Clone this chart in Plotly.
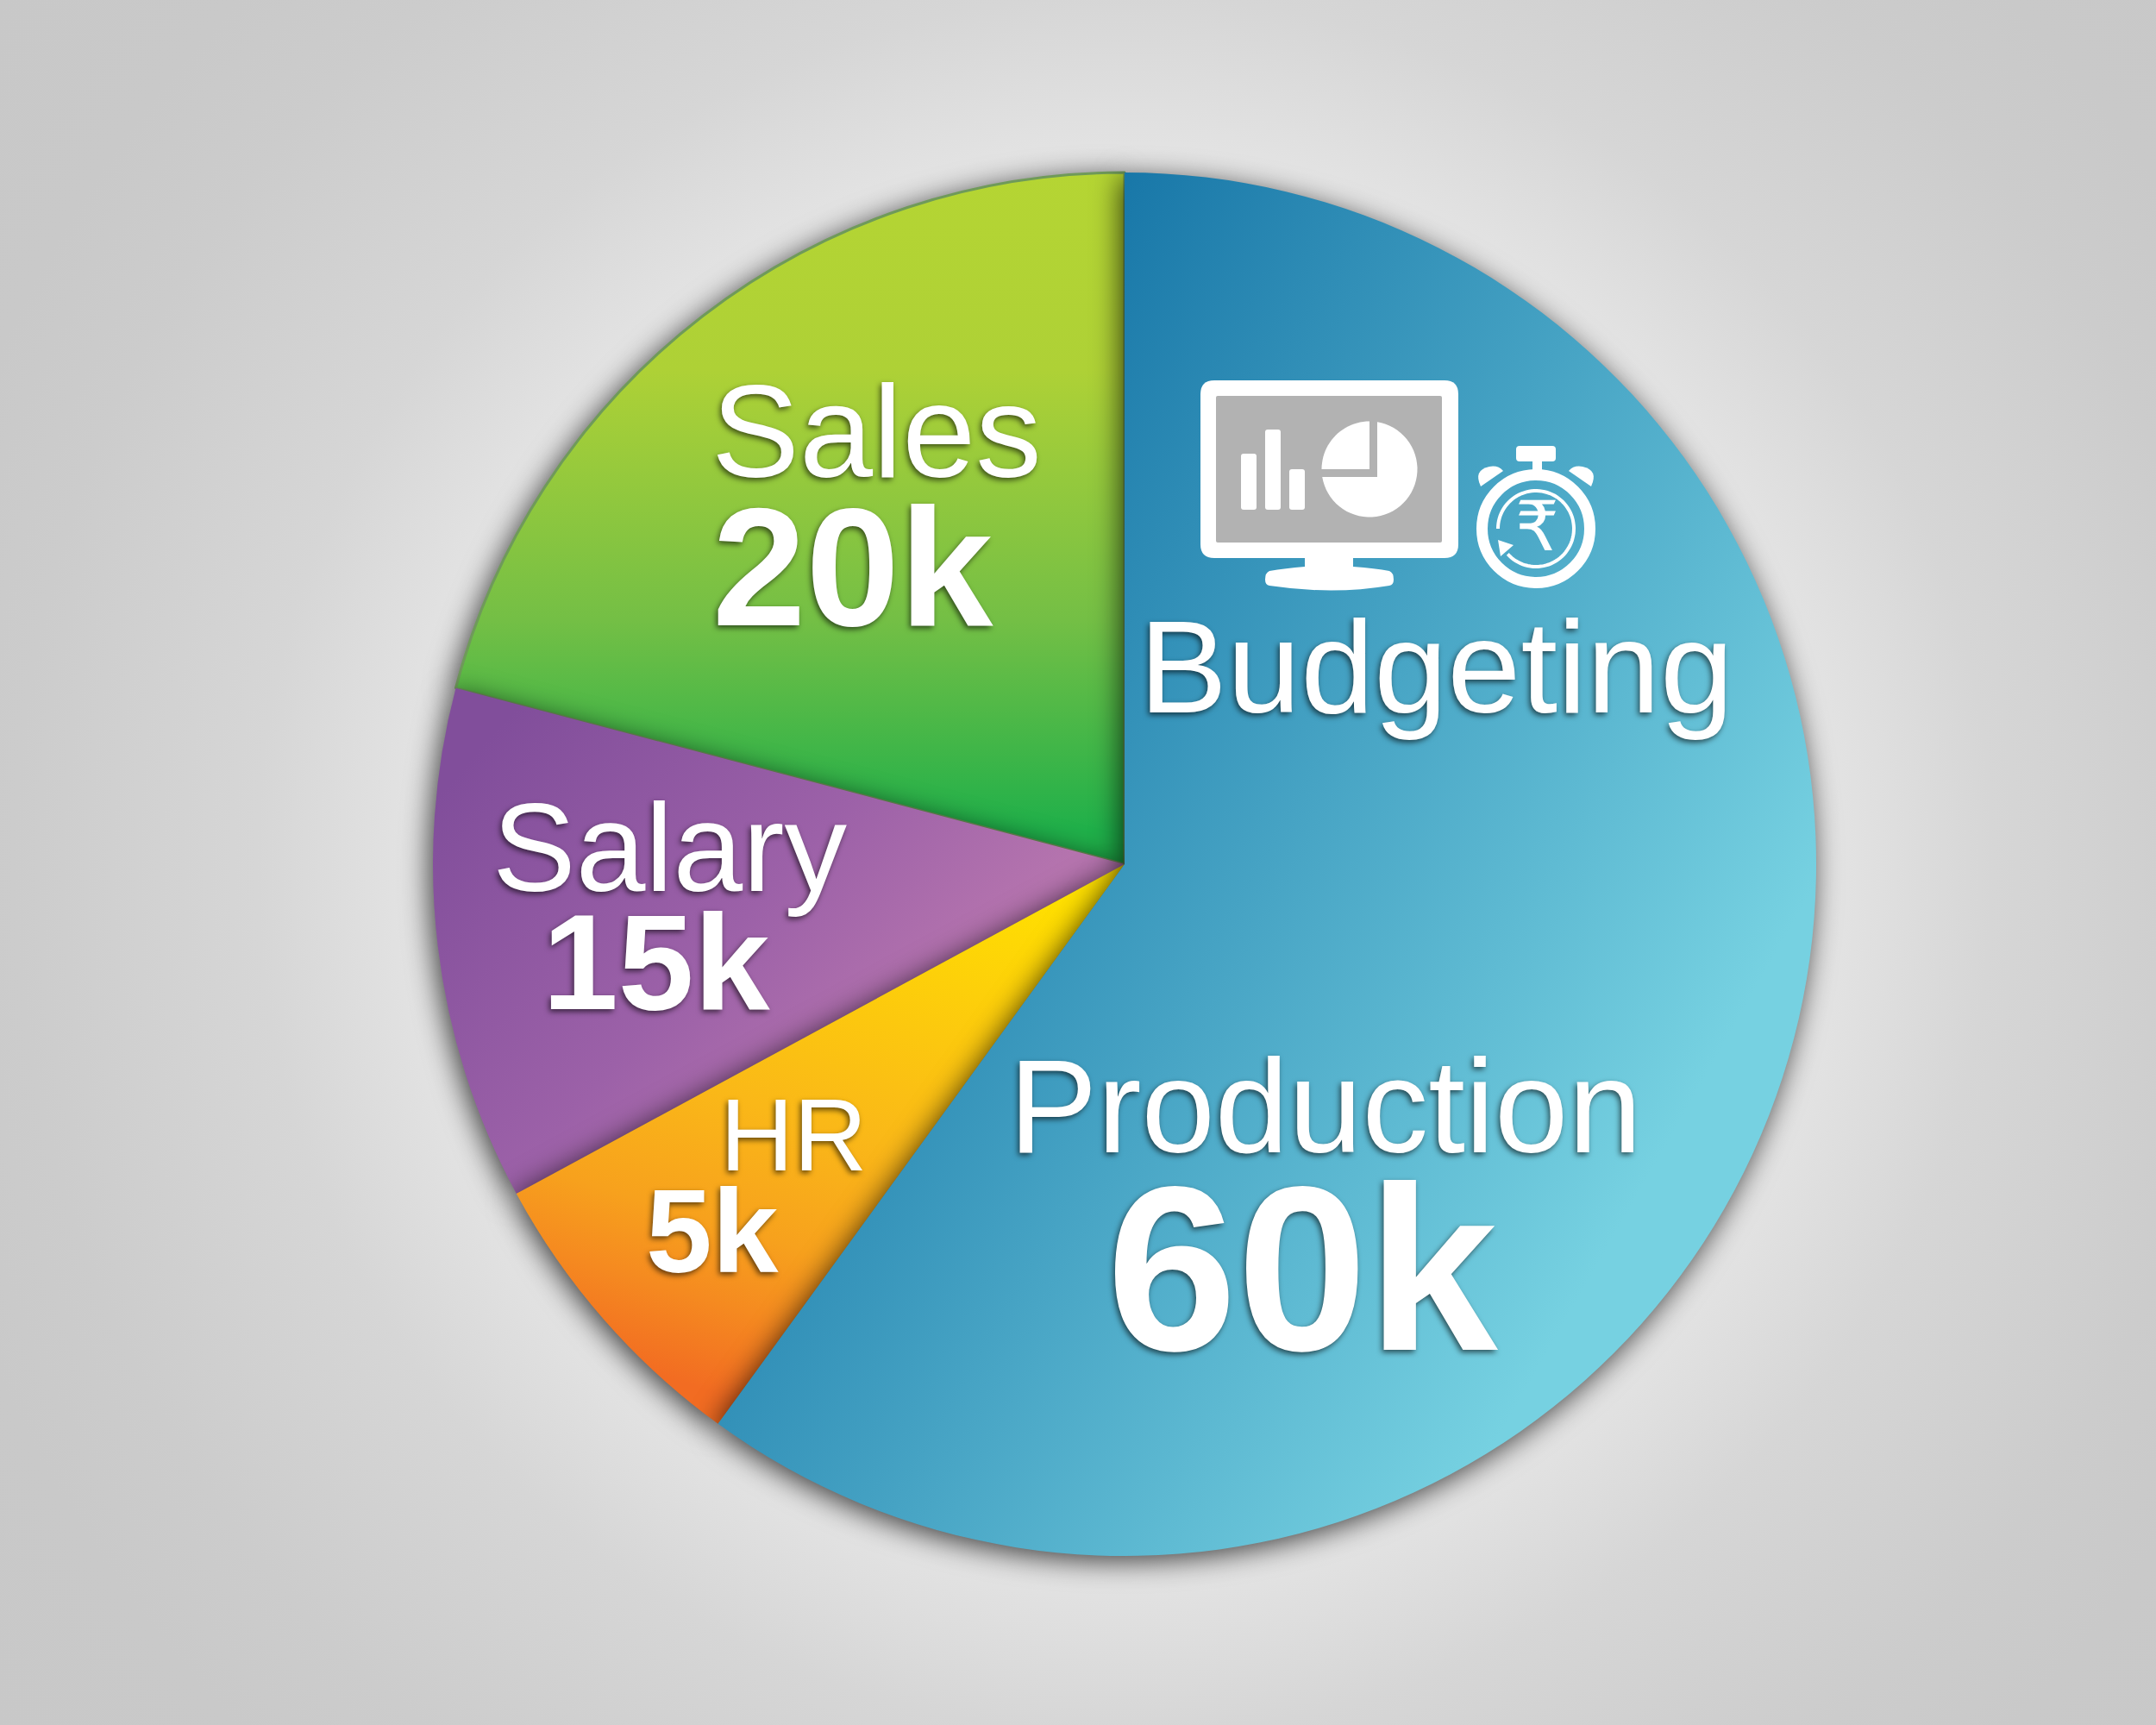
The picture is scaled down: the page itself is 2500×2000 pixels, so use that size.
import base64
import math
import plotly.graph_objects as go

# Data
slice_labels = ["Production", "HR", "Salary", "Sales"]
slice_shares = [60.0, 7.1, 12.0, 20.9]          # drawn share of the circle
base_colors = ["#3f97bf", "#f8a81c", "#9a60a8", "#7cc142"]

text_names = ["Budgeting", "Production", "Sales", "Salary", "HR"]
text_values = ["", "60k", "20k", "15k", "5k"]

W, H = 2500, 2000
CX, CY, R = 1304, 1002, 802

bg_svg = f'''<svg xmlns="http://www.w3.org/2000/svg" width="{W}" height="{H}">
<defs><radialGradient id="b" gradientUnits="userSpaceOnUse" cx="{CX}" cy="{CY}" r="1650">
<stop offset="0.49" stop-color="#e4e4e4"/><stop offset="0.61" stop-color="#d6d6d6"/>
<stop offset="0.78" stop-color="#cccccc"/><stop offset="0.87" stop-color="#c9c9c9"/><stop offset="1" stop-color="#c8c8c8"/>
</radialGradient></defs><rect width="{W}" height="{H}" fill="url(#b)"/></svg>'''
bg_uri = "data:image/svg+xml;base64," + base64.b64encode(bg_svg.encode()).decode()

fig = go.Figure(go.Pie(
    labels=slice_labels, values=slice_shares, sort=False, direction="clockwise", rotation=0,
    textinfo="none", showlegend=False, hoverinfo="label",
    marker=dict(colors=base_colors, line=dict(width=[0, 0, 0, 3], color="#6f9a5a")),
    domain=dict(x=[(CX - R) / W, (CX + R) / W], y=[1 - (CY + R) / H, 1 - (CY - R) / H]),
))

# text: (left x, baseline y, size) for the name, then for the value
name_pos = {"Budgeting": (1321, 826, 153), "Production": (1170, 1336, 153.5), "Sales": (825, 553, 153),
            "Salary": (571, 1033, 145), "HR": (835, 1357, 118)}
value_pos = {"Production": (1283, 1565, 272), "Sales": (826, 725, 195),
             "Salary": (629, 1169, 158), "HR": (749, 1475, 138)}
SHADOW = "-2px 3px 6px rgba(0,0,0,0.6)"
FAM = "Liberation Sans"
DESC = 0.212


def put(txt, x, base, size, bold=False):
    fig.add_annotation(xref="x", yref="y", x=x, y=base + DESC * size, text=txt, showarrow=False,
                       xanchor="left", yanchor="bottom", borderpad=0, borderwidth=0,
                       font=dict(family=FAM, size=size, color="white", shadow=SHADOW,
                                 weight="bold" if bold else "normal"))


for name, val in zip(text_names, text_values):
    put(name, *name_pos[name])
    if val:
        put(val, *value_pos[name], bold=True)

# rupee sign inside the stopwatch
fig.add_annotation(xref="x", yref="y", x=1782, y=610, text="₹", showarrow=False, borderpad=0,
                   font=dict(family="DejaVu Sans", size=80, color="white"))


def arc(cx, cy, r, a0, a1, n=48):
    """Icon outline: polyline along a circle; angles in degrees clockwise from 12 o'clock."""
    pts = []
    for i in range(n + 1):
        a = math.radians(a0 + (a1 - a0) * i / n)
        pts.append(f"{cx + r * math.sin(a):.1f},{cy - r * math.cos(a):.1f}")
    return " L".join(pts)


def solid(path, color="white"):
    fig.add_shape(type="path", path=path, xref="x", yref="y", fillcolor=color,
                  line=dict(width=0), layer="above")


def rect(x0, y0, x1, y1, r=3, color="white"):
    solid(f"M{x0+r},{y0} L{x1-r},{y0} Q{x1},{y0} {x1},{y0+r} L{x1},{y1-r} Q{x1},{y1} {x1-r},{y1} "
          f"L{x0+r},{y1} Q{x0},{y1} {x0},{y1-r} L{x0},{y0+r} Q{x0},{y0} {x0+r},{y0} Z", color)


# monitor
rect(1392, 441, 1691, 647, 16)
rect(1410, 459, 1672, 629, 2, "#b2b2b2")
solid("M1513,645 L1569,645 L1569,657 Q1595,659 1611,662 Q1616,664 1616,672 Q1616,678 1611,679 "
      "Q1545,690 1472,679 Q1467,678 1467,672 Q1467,664 1472,662 Q1490,659 1513,657 Z")
rect(1439, 526, 1457, 591)
rect(1467, 498, 1485, 591)
rect(1495, 544, 1513, 591)
solid("M" + arc(1588, 544, 55.5, 9.3, 260.7) + " L1597,553 Z")
solid("M" + arc(1588, 544, 55.5, 270, 360, 24) + " L1588,544 Z")

# stopwatch
fig.add_shape(type="circle", xref="x", yref="y", x0=1718.5, x1=1843.5, y0=550.5, y1=675.5,
              line=dict(color="white", width=13), fillcolor="rgba(0,0,0,0)", layer="above")
fig.add_shape(type="path", xref="x", yref="y", path="M" + arc(1781, 613, 44, 270, 588, 80),
              line=dict(color="white", width=4), fillcolor="rgba(0,0,0,0)", layer="above")
solid("M1737,626 L1755,632 L1740,645 Z")
rect(1758, 517, 1804, 535, 4)
rect(1777, 533, 1788, 550, 0)
solid("M1717,564 Q1708,545 1727,541 Q1737,539 1743,546 Z")
solid("M1845,564 Q1854,545 1835,541 Q1825,539 1819,546 Z")

fig.update_layout(
    width=W, height=H, margin=dict(l=0, r=0, t=0, b=0), autosize=False,
    paper_bgcolor="rgba(0,0,0,0)", plot_bgcolor="rgba(0,0,0,0)",
    xaxis=dict(range=[0, W], visible=False, domain=[0, 1], fixedrange=True),
    yaxis=dict(range=[H, 0], visible=False, domain=[0, 1], fixedrange=True),
    images=[dict(source=bg_uri, xref="paper", yref="paper", x=0, y=1, sizex=1, sizey=1,
                 sizing="stretch", xanchor="left", yanchor="top", layer="below")],
)

# Colour ramps and cast shadows on the library's own wedges (ramp vectors are relative to the pie centre)
post = r"""
document.body.style.margin = '0';
document.documentElement.style.background = '#d0d0d0';
var gd = document.getElementById('{plot_id}');
var NS = 'http://www.w3.org/2000/svg';
var CX = __CX__, CY = __CY__;
var ramps = [
  {v:[-349,-200,613,352], s:[[0,'#1877a8'],[1,'#76d1e1']]},
  {v:[-60,40,-260,680], s:[[0,'#ffe000'],[0.5,'#fab818'],[0.72,'#f7a11d'],[0.85,'#f58a20'],[1,'#f26c22']]},
  {v:[-488,-429,-38,-33], s:[[0,'#814e9b'],[0.6,'#9c61a8'],[1,'#b574ae']]},
  {v:[0,-802,0,-40], s:[[0,'#b5d533'],[0.3,'#aed136'],[0.68,'#74bf45'],[1,'#20b04a']]}
];
var main = gd.querySelector('.main-svg');
var defs = document.createElementNS(NS, 'defs');
main.insertBefore(defs, main.firstChild);
var slices = Array.prototype.slice.call(gd.querySelectorAll('.pielayer .slice'));
slices.forEach(function (sl, i) {
  var r = ramps[i];
  var g = document.createElementNS(NS, 'linearGradient');
  g.setAttribute('id', 'ramp' + i);
  g.setAttribute('gradientUnits', 'userSpaceOnUse');
  ['x1','y1','x2','y2'].forEach(function (k, j) { g.setAttribute(k, r.v[j] + (j % 2 ? CY : CX)); });
  r.s.forEach(function (st) {
    var e = document.createElementNS(NS, 'stop');
    e.setAttribute('offset', st[0]); e.setAttribute('stop-color', st[1]);
    g.appendChild(e);
  });
  defs.appendChild(g);
  sl.querySelector('path.surface').style.fill = 'url(#ramp' + i + ')';
  sl.style.filter = 'drop-shadow(-4px 6px 16px rgba(0,0,0,0.72))';
});
var parent = slices[0].parentNode;
slices.slice().reverse().forEach(function (sl) { parent.appendChild(sl); });
""".replace("__CX__", str(CX)).replace("__CY__", str(CY))
fig.write_html("out.html", post_script=post, config={"displayModeBar": False})
